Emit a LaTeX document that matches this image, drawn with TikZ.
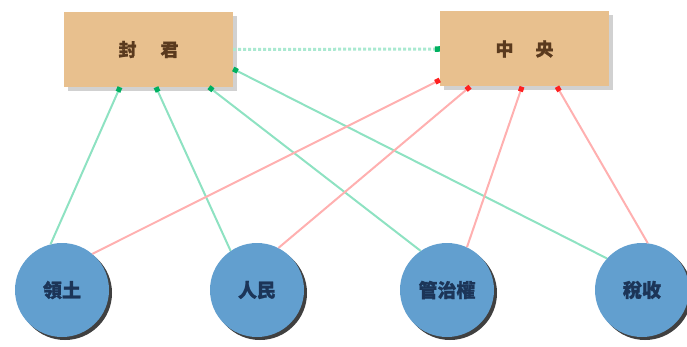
\documentclass[tikz,border=0pt]{standalone}
\usepackage{fontspec}
\newfontfamily\cjk[FakeBold=1.2]{Noto Sans CJK TC}
\usetikzlibrary{arrows.meta,shadows}
\definecolor{boxfill}{HTML}{E8C08E}
\definecolor{boxtext}{HTML}{5A3A1E}
\definecolor{circfill}{HTML}{629FCF}
\definecolor{circtext}{HTML}{1C3558}
\definecolor{gl}{HTML}{8EE2C2}
\definecolor{gd}{HTML}{00B060}
\definecolor{rl}{HTML}{FFB0B0}
\definecolor{rd}{HTML}{FF2020}
\begin{document}
\begin{tikzpicture}[x=1pt,y=-1pt]
\useasboundingbox (0,0) rectangle (687,347);
\tikzset{
  boxnode/.style={fill=boxfill, minimum width=169pt, minimum height=75pt, inner sep=0pt,
    font=\cjk\bfseries\fontsize{18}{18}\selectfont, text=boxtext,
    drop shadow={shadow xshift=4pt, shadow yshift=-4pt, fill=black!18, opacity=1}},
  circnode/.style={circle, fill=circfill, minimum size=94pt, inner sep=0pt,
    font=\cjk\bfseries\fontsize{19}{19}\selectfont, text=circtext,
    drop shadow={shadow xshift=3pt, shadow yshift=-3pt, fill=black!75, opacity=1}},
  gline/.style={draw=gl, line width=2pt, -{Square[length=5pt,width=5pt,color=gd]}},
  rline/.style={draw=rl, line width=2pt, -{Square[length=5pt,width=5pt,color=rd]}},
  dline/.style={draw=gl!75, line width=3pt, dash pattern=on 3pt off 2pt, -{Square[length=5pt,width=5.5pt,color=gd]}}
}
\node[boxnode] (L) at (148.5,49.5) {封\hspace{24pt}君};
\node[boxnode] (R) at (524.5,49) {中\hspace{22pt}央};
\node[circnode] (c1) at (62,290) {領土};
\node[circnode] (c2) at (257,290) {人民};
\node[circnode] (c3) at (447,290) {管治權};
\node[circnode] (c4) at (642,290) {稅收};
% green: circles to 封君
\draw[gline] (c1.104) -- ([xshift=-28.5pt]L.south);
\draw[gline] (c2.124) -- ([xshift=7.5pt]L.south);
\draw[gline] (c3.124) -- ([xshift=60.5pt]L.south);
\draw[gline] (c4.138) -- ([yshift=-19.5pt]L.east);
% red: circles to 中央
\draw[rline] (c1.50) -- ([yshift=-31pt]R.west);
\draw[rline] (c2.63) -- ([xshift=-54.5pt]R.south);
\draw[rline] (c3.65) -- ([xshift=-2.5pt]R.south);
\draw[rline] (c4.83) -- ([xshift=32.5pt]R.south);
% dotted link
\draw[dline] (L.east) -- (R.west);
\end{tikzpicture}
\end{document}
